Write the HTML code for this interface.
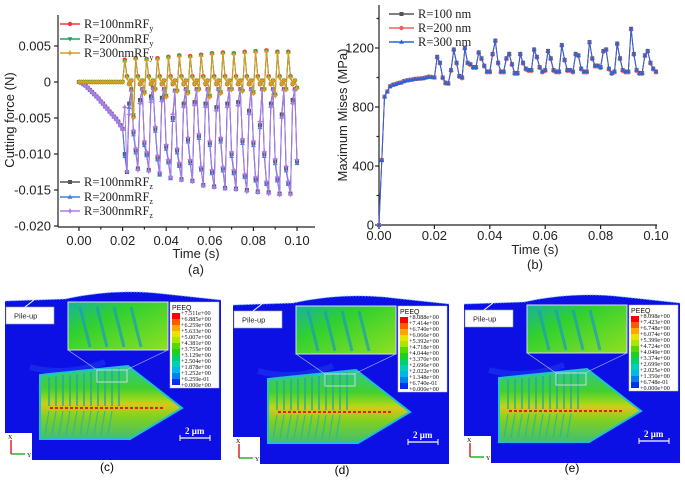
<!DOCTYPE html>
<html><head><meta charset="utf-8">
<style>
html,body{margin:0;padding:0;background:#fff;}
body{width:685px;height:482px;position:relative;overflow:hidden;font-family:"Liberation Sans",sans-serif;}
svg{position:absolute;left:0;top:0;}
.tk{font-family:"Liberation Sans",sans-serif;font-size:13px;fill:#222;}
.lg{font-family:"Liberation Serif",serif;font-size:12.5px;fill:#222;}
.pl{font-family:"Liberation Serif",serif;font-size:6.2px;fill:#111;}
</style></head>
<body>
<svg id="charts" width="685" height="482"></svg>
<svg width="685" height="482" style="pointer-events:none">
<defs>
<linearGradient id="gIn" x1="0" y1="0" x2="1" y2="1"><stop offset="0" stop-color="#18b0a0"/><stop offset="0.35" stop-color="#30d030"/><stop offset="1" stop-color="#90e020"/></linearGradient>
<linearGradient id="gPy" x1="0" y1="0" x2="0" y2="1"><stop offset="0" stop-color="#30c890"/><stop offset="0.3" stop-color="#40d030"/><stop offset="0.48" stop-color="#a8d818"/><stop offset="0.52" stop-color="#d8c818"/><stop offset="0.7" stop-color="#80d020"/><stop offset="1" stop-color="#40c070"/></linearGradient>
<g id="panelBase">
<rect x="0" y="0" width="216" height="173" fill="#fff"/>
<path d="M0,14 L60,12 Q110,1 160,7 L216,13 L216,173 L0,173 Z" fill="#0c10e4"/>
<path d="M0,14 L60,12 Q110,1 160,7 L216,13" fill="none" stroke="#7fc8ff" stroke-width="1" stroke-dasharray="1.5 1.5"/>
<path d="M25,80 Q60,90 100,75" fill="none" stroke="#1e40f0" stroke-width="6" opacity="0.5"/>
<polygon points="35,88 123,79 177,121 125,152 35,152" fill="url(#gPy)" stroke="#20c0d0" stroke-width="2"/>
<g stroke="#20a8a0" stroke-width="1.6" opacity="0.85">
<line x1="44" y1="90" x2="44" y2="119"/><line x1="51" y1="89" x2="51" y2="119"/><line x1="58" y1="88" x2="58" y2="119"/><line x1="65" y1="88" x2="65" y2="119"/><line x1="72" y1="87" x2="72" y2="119"/><line x1="79" y1="86" x2="79" y2="119"/><line x1="86" y1="85" x2="86" y2="119"/><line x1="93" y1="84" x2="93" y2="119"/><line x1="100" y1="83" x2="100" y2="119"/><line x1="107" y1="82" x2="107" y2="119"/><line x1="114" y1="81" x2="114" y2="119"/>
</g>
<g stroke="#28b8a0" stroke-width="1.3" opacity="0.8">
<line x1="44" y1="124" x2="40" y2="148"/><line x1="51" y1="124" x2="47" y2="148"/><line x1="58" y1="124" x2="54" y2="148"/><line x1="65" y1="124" x2="61" y2="148"/><line x1="72" y1="124" x2="68" y2="148"/><line x1="79" y1="124" x2="75" y2="148"/><line x1="86" y1="124" x2="82" y2="148"/><line x1="93" y1="124" x2="89" y2="148"/><line x1="100" y1="124" x2="96" y2="148"/><line x1="107" y1="124" x2="103" y2="148"/>
</g>
<line x1="45" y1="121" x2="160" y2="121" stroke="#e02010" stroke-width="2" stroke-dasharray="3 2"/>
<rect x="63" y="15" width="100" height="48" fill="url(#gIn)" stroke="#d8dcf0" stroke-width="1"/>
<g stroke="#1a9cc0" stroke-width="3" opacity="0.7"><line x1="75" y1="20" x2="85" y2="60"/><line x1="92" y1="20" x2="102" y2="60"/><line x1="109" y1="20" x2="119" y2="60"/><line x1="126" y1="20" x2="136" y2="60"/></g>
<line x1="63" y1="63" x2="92" y2="83" stroke="#b8c0f0" stroke-width="0.6"/>
<line x1="163" y1="63" x2="121" y2="83" stroke="#b8c0f0" stroke-width="0.6"/>
<rect x="92" y="83" width="30" height="12" fill="none" stroke="#e0e4ff" stroke-width="0.8"/>
<rect x="1" y="20" width="48" height="17" fill="#fff" stroke="#9aa" stroke-width="0.6"/>
<text x="9" y="31.5" font-size="7.5" font-family="Liberation Sans,sans-serif" fill="#222">Pile-up</text>
<line x1="20" y1="20" x2="29" y2="13" stroke="#fff" stroke-width="1"/>
<rect x="165" y="15" width="49" height="86" fill="#fff" stroke="#bbb" stroke-width="0.5"/>
<text x="167" y="23" font-size="7" font-family="Liberation Sans,sans-serif" fill="#111">PEEQ</text>
<rect x="167" y="26" width="8" height="6" fill="#ff0000"/><rect x="167" y="32" width="8" height="6" fill="#ff5a00"/><rect x="167" y="38" width="8" height="6" fill="#ffa600"/><rect x="167" y="44" width="8" height="6" fill="#e8e400"/><rect x="167" y="50" width="8" height="6" fill="#a8e800"/><rect x="167" y="56" width="8" height="6" fill="#58d800"/><rect x="167" y="62" width="8" height="6" fill="#20d020"/><rect x="167" y="68" width="8" height="6" fill="#00d070"/><rect x="167" y="74" width="8" height="6" fill="#00d0b8"/><rect x="167" y="80" width="8" height="6" fill="#00b8e8"/><rect x="167" y="86" width="8" height="6" fill="#0080f0"/><rect x="167" y="92" width="8" height="6" fill="#0030f0"/>
<rect x="0" y="146" width="27" height="27" fill="#fff"/>
<line x1="6" y1="167" x2="6" y2="153" stroke="#d00" stroke-width="1.3"/>
<line x1="6" y1="167" x2="20" y2="167" stroke="#0a0" stroke-width="1.3"/>
<text x="3" y="152" font-size="6" font-family="Liberation Serif,serif">X</text>
<text x="22" y="170" font-size="6" font-family="Liberation Serif,serif">Y</text>
<text x="180" y="147" font-size="9" font-weight="bold" font-family="Liberation Serif,serif" fill="#fff">2 μm</text>
<line x1="175" y1="151" x2="205" y2="151" stroke="#fff" stroke-width="1.3"/>
<line x1="175" y1="148" x2="175" y2="154" stroke="#fff"/><line x1="205" y1="148" x2="205" y2="154" stroke="#fff"/>
</g>
</defs>
<g transform="translate(5,287)">
<use href="#panelBase"/>
<g class="pl"><text class="pl" x="176" y="28">+7.511e+00</text><text class="pl" x="176" y="34">+6.885e+00</text><text class="pl" x="176" y="40">+6.259e+00</text><text class="pl" x="176" y="46">+5.633e+00</text><text class="pl" x="176" y="52">+5.007e+00</text><text class="pl" x="176" y="58">+4.381e+00</text><text class="pl" x="176" y="64">+3.755e+00</text><text class="pl" x="176" y="70">+3.129e+00</text><text class="pl" x="176" y="76">+2.504e+00</text><text class="pl" x="176" y="82">+1.878e+00</text><text class="pl" x="176" y="88">+1.252e+00</text><text class="pl" x="176" y="94">+6.259e-01</text><text class="pl" x="176" y="100">+0.000e+00</text></g>
</g>
<g transform="translate(233,291)">
<use href="#panelBase"/>
<g><text class="pl" x="176" y="28">+8.088e+00</text><text class="pl" x="176" y="34">+7.414e+00</text><text class="pl" x="176" y="40">+6.740e+00</text><text class="pl" x="176" y="46">+6.066e+00</text><text class="pl" x="176" y="52">+5.392e+00</text><text class="pl" x="176" y="58">+4.718e+00</text><text class="pl" x="176" y="64">+4.044e+00</text><text class="pl" x="176" y="70">+3.370e+00</text><text class="pl" x="176" y="76">+2.696e+00</text><text class="pl" x="176" y="82">+2.022e+00</text><text class="pl" x="176" y="88">+1.348e+00</text><text class="pl" x="176" y="94">+6.740e-01</text><text class="pl" x="176" y="100">+0.000e+00</text></g>
</g>
<g transform="translate(464,290)">
<use href="#panelBase"/>
<g><text class="pl" x="176" y="28">+8.098e+00</text><text class="pl" x="176" y="34">+7.423e+00</text><text class="pl" x="176" y="40">+6.748e+00</text><text class="pl" x="176" y="46">+6.074e+00</text><text class="pl" x="176" y="52">+5.399e+00</text><text class="pl" x="176" y="58">+4.724e+00</text><text class="pl" x="176" y="64">+4.049e+00</text><text class="pl" x="176" y="70">+3.374e+00</text><text class="pl" x="176" y="76">+2.699e+00</text><text class="pl" x="176" y="82">+2.025e+00</text><text class="pl" x="176" y="88">+1.350e+00</text><text class="pl" x="176" y="94">+6.748e-01</text><text class="pl" x="176" y="100">+0.000e+00</text></g>
</g>
<text x="107" y="471" text-anchor="middle" font-size="12" font-family="Liberation Sans,sans-serif">(c)</text>
<text x="342" y="474" text-anchor="middle" font-size="12" font-family="Liberation Sans,sans-serif">(d)</text>
<text x="572" y="472" text-anchor="middle" font-size="12" font-family="Liberation Sans,sans-serif">(e)</text>
</svg>
<script>
const time=[0,0.001,0.002,0.003,0.004,0.005,0.006,0.007,0.008,0.009,0.010,0.011,0.012,0.013,0.014,0.015,0.016,0.017,0.018,0.019,0.020,0.021,0.022,0.023,0.024,0.025,0.026,0.027,0.028,0.029,0.030,0.031,0.032,0.033,0.034,0.035,0.036,0.037,0.038,0.039,0.040,0.041,0.042,0.043,0.044,0.045,0.046,0.047,0.048,0.049,0.050,0.051,0.052,0.053,0.054,0.055,0.056,0.057,0.058,0.059,0.060,0.061,0.062,0.063,0.064,0.065,0.066,0.067,0.068,0.069,0.070,0.071,0.072,0.073,0.074,0.075,0.076,0.077,0.078,0.079,0.080,0.081,0.082,0.083,0.084,0.085,0.086,0.087,0.088,0.089,0.090,0.091,0.092,0.093,0.094,0.095,0.096,0.097,0.098,0.099,0.100];
const fy100=[0,0,0,0,0,0,0,0,0,0,0,0,0,0,0,0,0,0,0,0,0,
0.0031,0.0008,-0.0003,0.0002,-0.0048, 0.0033,0.0008,-0.0003,0.0002,-0.0015, 0.0032,0.0008,-0.0003,0.0002,-0.0010, 0.0033,0.0008,-0.0003,0.0002,-0.0020,
0.0035,0.0008,-0.0003,0.0002,-0.0012, 0.0037,0.0008,-0.0003,0.0002,-0.0015, 0.0036,0.0008,-0.0003,0.0002,-0.0010, 0.0038,0.0008,-0.0003,0.0002,-0.0020,
0.0040,0.0008,-0.0003,0.0002,-0.0015, 0.0041,0.0008,-0.0003,0.0002,-0.0010, 0.0040,0.0008,-0.0003,0.0002,-0.0012, 0.0042,0.0008,-0.0003,0.0002,-0.0015,
0.0043,0.0008,-0.0003,0.0002,-0.0010, 0.0044,0.0008,-0.0003,0.0002,-0.0018, 0.0042,0.0008,-0.0003,0.0002,-0.0010, 0.0042,0.0008,-0.0003,0.0002,-0.0008];
const fy200=[0,0,0,0,0,0,0,0,0,0,0,0,0,0,0,0,0,0,0,0,0,
0.0029,0.0007,-0.0003,0.0002,-0.0046, 0.0032,0.0007,-0.0003,0.0002,-0.0014, 0.0031,0.0007,-0.0003,0.0002,-0.0010, 0.0032,0.0007,-0.0003,0.0002,-0.0019,
0.0034,0.0007,-0.0003,0.0002,-0.0012, 0.0036,0.0007,-0.0003,0.0002,-0.0014, 0.0035,0.0007,-0.0003,0.0002,-0.0010, 0.0037,0.0007,-0.0003,0.0002,-0.0019,
0.0039,0.0007,-0.0003,0.0002,-0.0014, 0.0040,0.0007,-0.0003,0.0002,-0.0010, 0.0039,0.0007,-0.0003,0.0002,-0.0012, 0.0041,0.0007,-0.0003,0.0002,-0.0014,
0.0042,0.0007,-0.0003,0.0002,-0.0010, 0.0043,0.0007,-0.0003,0.0002,-0.0017, 0.0041,0.0007,-0.0003,0.0002,-0.0010, 0.0041,0.0007,-0.0003,0.0002,-0.0008];
const fy300=[0,0,0,0,0,0,0,0,0,0,0,0,0,0,0,0,0,0,0,0,0,
0.0028,0.0006,-0.0003,0.0002,-0.0050, 0.0031,0.0006,-0.0003,0.0002,-0.0016, 0.0030,0.0006,-0.0003,0.0002,-0.0011, 0.0031,0.0006,-0.0003,0.0002,-0.0021,
0.0033,0.0006,-0.0003,0.0002,-0.0013, 0.0035,0.0006,-0.0003,0.0002,-0.0016, 0.0034,0.0006,-0.0003,0.0002,-0.0011, 0.0036,0.0006,-0.0003,0.0002,-0.0021,
0.0038,0.0006,-0.0003,0.0002,-0.0016, 0.0039,0.0006,-0.0003,0.0002,-0.0011, 0.0038,0.0006,-0.0003,0.0002,-0.0013, 0.0040,0.0006,-0.0003,0.0002,-0.0016,
0.0041,0.0006,-0.0003,0.0002,-0.0011, 0.0042,0.0006,-0.0003,0.0002,-0.0019, 0.0040,0.0006,-0.0003,0.0002,-0.0011, 0.0040,0.0006,-0.0003,0.0002,-0.0009];
const fz100=[0,-0.0001,-0.0003,-0.0005,-0.0008,-0.0011,-0.0014,-0.0017,-0.0020,-0.0023,-0.0027,-0.0030,-0.0034,-0.0037,-0.0041,-0.0044,-0.0048,-0.0051,-0.0055,-0.0060,-0.0065,
-0.0100,-0.0125,-0.0030,-0.0010,-0.0070, -0.0095,-0.0120,-0.0025,-0.0010,-0.0085, -0.0100,-0.0122,-0.0020,-0.0008,-0.0065, -0.0105,-0.0128,-0.0022,-0.0010,-0.0090,
-0.0110,-0.0133,-0.0050,-0.0012,-0.0095, -0.0115,-0.0135,-0.0030,-0.0010,-0.0080, -0.0110,-0.0137,-0.0028,-0.0010,-0.0075, -0.0120,-0.0143,-0.0030,-0.0010,-0.0085,
-0.0125,-0.0145,-0.0035,-0.0010,-0.0080, -0.0120,-0.0147,-0.0030,-0.0010,-0.0100, -0.0125,-0.0148,-0.0028,-0.0010,-0.0082, -0.0130,-0.0150,-0.0040,-0.0010,-0.0085,
-0.0135,-0.0152,-0.0060,-0.0010,-0.0100, -0.0140,-0.0153,-0.0030,-0.0010,-0.0110, -0.0135,-0.0155,-0.0045,-0.0010,-0.0120, -0.0140,-0.0155,-0.0025,-0.0010,-0.0110];
const fz200=[0,-0.0001,-0.0003,-0.0005,-0.0008,-0.0011,-0.0014,-0.0017,-0.0020,-0.0023,-0.0027,-0.0030,-0.0034,-0.0037,-0.0041,-0.0044,-0.0048,-0.0051,-0.0055,-0.0060,-0.0065,
-0.0103,-0.0124,-0.0035,-0.0011,-0.0073, -0.0098,-0.0121,-0.0028,-0.0010,-0.0088, -0.0102,-0.0123,-0.0023,-0.0009,-0.0068, -0.0108,-0.0129,-0.0025,-0.0010,-0.0093,
-0.0112,-0.0134,-0.0053,-0.0012,-0.0098, -0.0117,-0.0136,-0.0033,-0.0010,-0.0083, -0.0113,-0.0138,-0.0031,-0.0010,-0.0078, -0.0122,-0.0144,-0.0033,-0.0010,-0.0088,
-0.0127,-0.0146,-0.0038,-0.0010,-0.0083, -0.0123,-0.0148,-0.0033,-0.0010,-0.0103, -0.0127,-0.0149,-0.0031,-0.0010,-0.0085, -0.0132,-0.0151,-0.0043,-0.0010,-0.0088,
-0.0137,-0.0153,-0.0063,-0.0010,-0.0103, -0.0142,-0.0154,-0.0033,-0.0010,-0.0113, -0.0137,-0.0156,-0.0048,-0.0010,-0.0123, -0.0142,-0.0155,-0.0028,-0.0010,-0.0113];
const fz300=[0,-0.0001,-0.0003,-0.0005,-0.0008,-0.0011,-0.0014,-0.0017,-0.0020,-0.0023,-0.0027,-0.0030,-0.0034,-0.0037,-0.0041,-0.0044,-0.0048,-0.0051,-0.0055,-0.0061,-0.0066,
-0.0035,-0.0124,-0.0045,-0.0012,-0.0067, -0.0092,-0.0122,-0.0030,-0.0011,-0.0082, -0.0097,-0.0124,-0.0028,-0.0009,-0.0062, -0.0102,-0.0125,-0.0027,-0.0011,-0.0087,
-0.0108,-0.0132,-0.0045,-0.0013,-0.0092, -0.0112,-0.0136,-0.0035,-0.0011,-0.0077, -0.0108,-0.0138,-0.0032,-0.0011,-0.0072, -0.0118,-0.0144,-0.0035,-0.0011,-0.0082,
-0.0122,-0.0146,-0.0040,-0.0011,-0.0077, -0.0118,-0.0148,-0.0035,-0.0011,-0.0097, -0.0122,-0.0149,-0.0033,-0.0011,-0.0079, -0.0128,-0.0152,-0.0045,-0.0011,-0.0082,
-0.0132,-0.0153,-0.0055,-0.0011,-0.0097, -0.0138,-0.0155,-0.0035,-0.0011,-0.0107, -0.0132,-0.0156,-0.0050,-0.0011,-0.0117, -0.0138,-0.0156,-0.0030,-0.0011,-0.0108];
const mises100=[0,440,870,905,940,950,955,962,966,975,980,983,986,990,992,993,995,1000,1005,1003,1000,
1140,1100,1000,965,960,1050,1190,1100,1010,1000,1200,1100,1090,1070,1070,1170,1130,1080,1040,1040,1160,1250,1100,1040,1040,1130,1160,1090,1030,1030,
1160,1100,1060,1050,1050,1190,1140,1070,1040,1050,1180,1130,1050,1040,1040,1220,1120,1050,1050,1040,1160,1150,1060,1040,1040,1240,1130,1080,1080,1070,
1180,1190,1060,1030,1040,1230,1130,1050,1040,1040,1330,1160,1050,1030,1030,1150,1180,1100,1060,1040];
const mises200=[0,440,870,905,940,950,955,962,966,975,980,983,986,990,992,993,995,1000,1005,1003,1000,
1135,1095,995,960,958,1045,1185,1095,1005,995,1195,1095,1085,1065,1065,1165,1125,1075,1035,1035,1155,1245,1095,1035,1035,1125,1155,1085,1025,1025,
1155,1095,1055,1045,1045,1185,1135,1065,1035,1045,1175,1125,1045,1035,1035,1215,1115,1045,1045,1035,1155,1145,1055,1035,1035,1235,1125,1075,1075,1065,
1175,1185,1055,1025,1035,1225,1125,1045,1035,1035,1325,1155,1045,1025,1025,1145,1175,1095,1055,1035];
const mises300=[0,440,870,905,940,950,955,962,966,975,980,983,986,990,992,993,995,1000,1005,1003,1000,
1140,1100,1000,965,960,1050,1190,1100,1010,1000,1200,1100,1090,1070,1070,1170,1130,1080,1040,1040,1160,1250,1100,1040,1040,1130,1160,1090,1030,1030,
1160,1100,1060,1050,1050,1190,1140,1070,1040,1050,1180,1130,1050,1040,1040,1220,1120,1050,1050,1040,1160,1150,1060,1040,1040,1240,1130,1080,1080,1070,
1180,1190,1060,1030,1040,1230,1130,1050,1040,1040,1330,1160,1050,1030,1030,1150,1180,1100,1060,1040];
const xTicksA=[0,0.02,0.04,0.06,0.08,0.10];
const xTickLabelsA=["0.00","0.02","0.04","0.06","0.08","0.10"];
const yTicksA=[0.005,0,-0.005,-0.010,-0.015,-0.020];
const yTickLabelsA=["0.005","0","-0.005","-0.010","-0.015","-0.020"];
const yTicksB=[0,400,800,1200];
const yTickLabelsB=["0","400","800","1200"];

const NS="http://www.w3.org/2000/svg";
const svg=document.getElementById('charts');
function mk(tag,attrs,parent){const e=document.createElementNS(NS,tag);for(const k in attrs)e.setAttribute(k,attrs[k]);(parent||svg).appendChild(e);return e;}
const xA=t=>79+t*2180, yA=v=>82-v*7200;
const xB=t=>379+t*2770, yB=v=>225-v*0.1475;

function marker(g,shape,x,y,c){
  let m;
  if(shape==='sq') m=mk('rect',{x:x-2,y:y-2,width:4,height:4,fill:c},g);
  else if(shape==='ci') m=mk('circle',{cx:x,cy:y,r:2.2,fill:c},g);
  else if(shape==='up') m=mk('polygon',{points:`${x},${y-2.6} ${x+2.4},${y+1.8} ${x-2.4},${y+1.8}`,fill:c},g);
  else if(shape==='dn') m=mk('polygon',{points:`${x},${y+2.6} ${x+2.4},${y-1.8} ${x-2.4},${y-1.8}`,fill:c},g);
  else m=mk('polygon',{points:`${x},${y-3} ${x+1},${y-1} ${x+3},${y} ${x+1},${y+1} ${x},${y+3} ${x-1},${y+1} ${x-3},${y} ${x-1},${y-1}`,fill:c},g);
  
  
}
function series(name,xs,ys,fx,fy,color,shape,lw){
  const g=mk('g',{});
  
  
  const d=xs.map((t,i)=>(i?'L':'M')+fx(t).toFixed(1)+','+fy(ys[i]).toFixed(1)).join(' ');
  const p=mk('path',{d:d,fill:'none',stroke:color,'stroke-width':lw||1},g);
  
  
  xs.forEach((t,i)=>marker(g,shape,fx(t),fy(ys[i]),color));
}
function txt(x,y,s,cls,anchor,name){const t=mk('text',{x:x,y:y,class:cls,'text-anchor':anchor||'start'});t.textContent=s;
  
  
  return t;}

const axA=mk('g',{stroke:'#222','stroke-width':1.2});


mk('line',{x1:58,y1:15,x2:58,y2:227},axA);
mk('line',{x1:58,y1:227,x2:315,y2:227},axA);
xTicksA.forEach((t,i)=>{mk('line',{x1:xA(t),y1:227,x2:xA(t),y2:231},axA);txt(xA(t),245,xTickLabelsA[i],'tk','middle','x-tick-label-a');});
[0.01,0.03,0.05,0.07,0.09].forEach(t=>mk('line',{x1:xA(t),y1:227,x2:xA(t),y2:229.5},axA));
yTicksA.forEach((v,i)=>{mk('line',{x1:54,y1:yA(v),x2:58,y2:yA(v)},axA);txt(51,yA(v)+4.5,yTickLabelsA[i],'tk','end','y-tick-label-a');});
const yla=txt(0,0,'Cutting force (N)','tk','middle','y-axis-title-a');yla.setAttribute('transform','translate(14,120) rotate(-90)');yla.setAttribute('font-size','13.5');
txt(196,258,'Time (s)','tk','middle','x-axis-title-a');
txt(196,274,'(a)','tk','middle','caption-a');

series('fz-100nm',time,fz100,xA,yA,'#555','sq');
series('fz-200nm',time,fz200,xA,yA,'#3d7ee0','up');
series('fz-300nm',time,fz300,xA,yA,'#b07ae8','st');
series('fy-100nm',time,fy100,xA,yA,'#f03838','ci');
series('fy-200nm',time,fy200,xA,yA,'#20a060','dn');
series('fy-300nm',time,fy300,xA,yA,'#d4a020','st');

function legendEntry(x1,x2,y,color,shape,label,sub,name){
  const g=mk('g',{});
  
  
  mk('line',{x1:x1,y1:y,x2:x2,y2:y,stroke:color,'stroke-width':1.5},g);
  marker(g,shape,(x1+x2)/2,y,color);
  const t=mk('text',{x:x2+4,y:y+4,class:'lg'},g);t.textContent=label;
  if(sub){const s=mk('tspan',{'font-size':'8','dy':'3'},t);s.textContent=sub;}
}
legendEntry(60,80,24,'#f03838','ci','R=100nmRF','y','legend-fy-100');
legendEntry(60,80,39,'#20a060','dn','R=200nmRF','y','legend-fy-200');
legendEntry(60,80,53,'#d4a020','st','R=300nmRF','y','legend-fy-300');
legendEntry(60,80,182,'#555','sq','R=100nmRF','z','legend-fz-100');
legendEntry(60,80,197,'#3d7ee0','up','R=200nmRF','z','legend-fz-200');
legendEntry(60,80,211,'#b07ae8','st','R=300nmRF','z','legend-fz-300');

const axB=mk('g',{stroke:'#222','stroke-width':1.2});


mk('line',{x1:379,y1:5,x2:379,y2:225},axB);
mk('line',{x1:379,y1:225,x2:657,y2:225},axB);
xTicksA.forEach((t,i)=>{mk('line',{x1:xB(t),y1:225,x2:xB(t),y2:229},axB);txt(xB(t),240,xTickLabelsA[i],'tk','middle','x-tick-label-b');});
yTicksB.forEach((v,i)=>{mk('line',{x1:375,y1:yB(v),x2:379,y2:yB(v)},axB);txt(374,yB(v)+4.5,yTickLabelsB[i],'tk','end','y-tick-label-b');});
[200,600,1000,1400].forEach(v=>mk('line',{x1:376.5,y1:yB(v),x2:379,y2:yB(v)},axB));
const ylb=txt(0,0,'Maximum Mises (MPa)','tk','middle','y-axis-title-b');ylb.setAttribute('transform','translate(347,115) rotate(-90)');
txt(535,254,'Time (s)','tk','middle','x-axis-title-b');
txt(535,269,'(b)','tk','middle','caption-b');

series('mises-100nm',time,mises100,xB,yB,'#555','sq');
series('mises-200nm',time,mises200,xB,yB,'#f06060','ci');
series('mises-300nm',time,mises300,xB,yB,'#2a64d8','up');
legendEntry(389,414,14,'#555','sq','R=100 nm','','legend-mises-100');
legendEntry(389,414,28,'#f06060','ci','R=200 nm','','legend-mises-200');
legendEntry(389,414,42,'#2a64d8','up','R=300 nm','','legend-mises-300');
</script>
</body></html>
